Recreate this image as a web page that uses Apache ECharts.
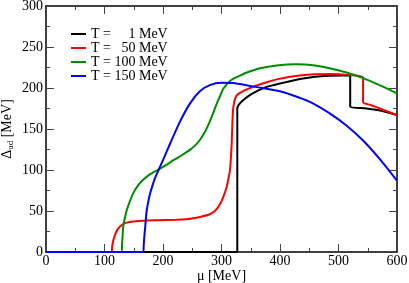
<!DOCTYPE html>
<html><head><meta charset="utf-8">
<script src="https://cdn.jsdelivr.net/npm/echarts@6/dist/echarts.min.js"></script>
<style>html,body{margin:0;padding:0;background:#fff}#c{width:409px;height:283px}</style>
</head><body><div id="c"></div>
<script>
var seriesNames = ['T = 1 MeV', 'T = 50 MeV', 'T = 100 MeV', 'T = 150 MeV'];
var tempLabels = ['1', '50', '100', '150'];
var xTicks = [0, 100, 200, 300, 400, 500, 600];
var yTicks = [0, 50, 100, 150, 200, 250, 300];

var muT1 = [0,320,327,327,329,334.5,341,349,363,377,400,434,457,485,505,520,520,545,571,600];
var dT1  = [0,0,0,175,179,183.5,187.5,191.5,197,201.3,205.5,211,213.5,215,215.3,215,177,175.3,172.5,167];

var muT50 = [0,112.3,113,115,118,122,126.5,132,138,150,166,190,223,240,252,265,280,290,297,303,309,312,314.5,316,317.4,318.3,319,320,321.5,323,326,331.6,340,349,354,377,394,415,434,457,485,515,542,542,556,571,585,600];
var dT50  = [0,0,6,14,21,27,31,34,35.8,37.3,38.2,38.7,39.3,40,41.2,43,46,51,58,67,80,90,100,114,132,150,165,175,182,186.5,191,194,197.5,200,201.5,207,210.5,213.5,215.3,216.7,217,216,212.6,182.5,179,175,171,167];

var muT100 = [0,129.4,130,131,132,135,138,143,149,157,166,178,192,205,218,232,246,255,263,272,280,286,292,298,303,309,314.5,322,331.6,340,366,394,428,460,485,515,542,570,600];
var dT100  = [0,0,10,20,31,42,51,61,71.5,81,88,95,100.5,106,112,118,124.5,130,136.6,147,159,170,181,191,199,204.5,208.5,212,215,218,224,227.5,229,227.5,224,218.5,212,203.5,193.5];

var muT150 = [0,166.5,167,168,169,170.5,172,175,178,182,186,193,200,212,229,246,263,280,300,320,349,377,400,430,457,485,514,542,571,600];
var dT150  = [0,0,8,18,26,38,50,62,71.5,81,89.5,101,112,132,159,181,196,203.5,206.3,206,202.5,199,196,189,181,169,154,136,113,87];

function pairs(xs, ys){ return xs.map(function(x,i){ return [x, ys[i]]; }); }
var allMu = [muT1, muT50, muT100, muT150];
var allD = [dT1, dT50, dT100, dT150];
var colors = ['#000000', '#ff0000', '#008c00', '#0000ff'];

var font = '"Liberation Serif","Times New Roman",serif';
var tickStyle = {color: '#444', width: 1};

function mkX(pos, labels){
  return {
    type: 'value', min: 0, max: 600, interval: 100, position: pos,
    axisLine: {show: true, onZero: false, lineStyle: {color: '#000', width: 1.5}},
    axisTick: {show: true, inside: true, length: 8, lineStyle: tickStyle},
    minorTick: {show: true, splitNumber: 2, length: 4, lineStyle: tickStyle},
    splitLine: {show: false},
    axisLabel: {show: labels, color: '#000', fontFamily: font, fontSize: 14, margin: 2},
    name: labels ? 'μ [MeV]' : '', nameLocation: 'middle', nameGap: 17, nameMoveOverlap: false,
    nameTextStyle: {color: '#000', fontFamily: font, fontSize: 14}
  };
}
function mkY(pos, labels){
  return {
    type: 'value', min: 0, max: 300, interval: 50, position: pos,
    axisLine: {show: true, onZero: false, lineStyle: {color: '#000', width: 1.5}},
    axisTick: {show: true, inside: true, length: 8, lineStyle: tickStyle},
    minorTick: {show: true, splitNumber: 2, length: 4, lineStyle: tickStyle},
    splitLine: {show: false},
    axisLabel: {show: labels, color: '#000', fontFamily: font, fontSize: 14, margin: 3},
    name: labels ? '{d|Δ}{s|ud}{d| [MeV]}' : '', nameLocation: 'middle', nameGap: 31, nameMoveOverlap: false,
    nameTextStyle: {color: '#000', fontFamily: font, fontSize: 14,
      rich: {d: {fontFamily: font, fontSize: 14, color: '#000'},
             s: {fontFamily: font, fontSize: 9, color: '#000', padding: [7,0,0,0]}}}
  };
}

var series = seriesNames.map(function(n, i){
  return {
    name: n, type: 'line', data: pairs(allMu[i], allD[i]),
    showSymbol: false, symbol: 'none', smooth: 0.2, animation: false,
    lineStyle: {color: colors[i], width: 2}, itemStyle: {color: colors[i]}
  };
});

var padKeys = ['n2', 'n1', 'n0', 'n0'];
var chart = echarts.init(document.getElementById('c'), null, {renderer: 'canvas'});
chart.setOption({
  animation: false,
  grid: {left: 46, right: 12, top: 6, bottom: 31, containLabel: false, outerBoundsMode: 'none'},
  xAxis: [mkX('bottom', true), mkX('top', false)],
  yAxis: [mkY('left', true), mkY('right', false)],
  legend: {
    orient: 'vertical', left: 66, top: 22, itemGap: 0,
    icon: 'rect', itemWidth: 15, itemHeight: 2,
    data: seriesNames,
    formatter: function(n){
      var i = seriesNames.indexOf(n);
      return '{a|T = }{' + padKeys[i] + '|' + tempLabels[i] + '}{a| MeV}';
    },
    textStyle: {fontFamily: font, fontSize: 14, color: '#000', lineHeight: 13,
      rich: {a: {fontFamily: font, fontSize: 14, lineHeight: 13},
             n0: {fontFamily: font, fontSize: 14, lineHeight: 13},
             n1: {fontFamily: font, fontSize: 14, lineHeight: 13, padding: [0,0,0,7]},
             n2: {fontFamily: font, fontSize: 14, lineHeight: 13, padding: [0,0,0,14]}}}
  },
  series: series
});
</script></body></html>
